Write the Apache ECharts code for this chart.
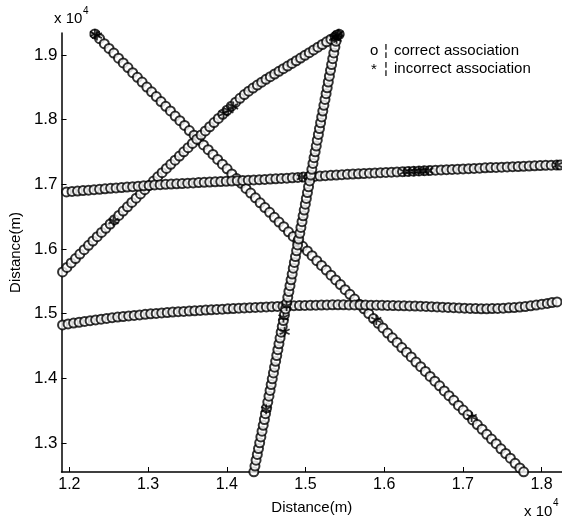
<!DOCTYPE html>
<html>
<head>
<meta charset="utf-8">
<script src="https://cdn.jsdelivr.net/npm/echarts@6/dist/echarts.min.js"></script>
<style>
html, body { margin: 0; padding: 0; background: #fff; }
#main { width: 562px; height: 525px; }
</style>
</head>
<body>
<div id="main"></div>
<script>
// tick positions, metres (labels shown in units of 10^4)
const xTicks = [12000, 13000, 14000, 15000, 16000, 17000, 18000];
const yTicks = [13000, 14000, 15000, 16000, 17000, 18000, 19000];

// track 1: descending diagonal
const trackA_x = [12324, 12384, 12444, 12504, 12564, 12624, 12684, 12744, 12804, 12864, 12924, 12984, 13044, 13104, 13164, 13224, 13284, 13344, 13404, 13464, 13524, 13584, 13644, 13704, 13764, 13824, 13884, 13944, 14004, 14064, 14124, 14184, 14244, 14304, 14364, 14424, 14484, 14544, 14604, 14664, 14724, 14784, 14844, 14904, 14964, 15024, 15084, 15144, 15204, 15264, 15324, 15384, 15444, 15504, 15564, 15624, 15684, 15744, 15804, 15864, 15924, 15984, 16044, 16104, 16164, 16224, 16284, 16344, 16404, 16464, 16524, 16584, 16644, 16704, 16764, 16824, 16884, 16944, 17004, 17064, 17124, 17184, 17244, 17304, 17364, 17424, 17484, 17544, 17604, 17664, 17724, 17773];
const trackA_y = [19325, 19252, 19174, 19101, 19029, 18950, 18877, 18805, 18726, 18654, 18581, 18503, 18430, 18357, 18279, 18206, 18134, 18055, 17983, 17910, 17831, 17759, 17686, 17608, 17535, 17462, 17384, 17311, 17239, 17160, 17088, 17015, 16936, 16864, 16791, 16713, 16640, 16567, 16489, 16416, 16344, 16265, 16193, 16120, 16041, 15969, 15896, 15818, 15745, 15673, 15594, 15521, 15449, 15370, 15298, 15225, 15146, 15074, 15001, 14923, 14850, 14778, 14699, 14626, 14554, 14475, 14403, 14330, 14251, 14179, 14106, 14028, 13955, 13883, 13804, 13731, 13659, 13580, 13508, 13435, 13356, 13284, 13211, 13133, 13060, 12988, 12909, 12836, 12764, 12685, 12613, 12552];

// track 2: rising curve from left edge to the apex
const trackB_x = [11913, 11968, 12023, 12078, 12133, 12188, 12243, 12298, 12353, 12408, 12463, 12518, 12573, 12628, 12683, 12738, 12793, 12848, 12903, 12958, 13013, 13068, 13123, 13178, 13233, 13288, 13343, 13398, 13453, 13508, 13563, 13618, 13673, 13728, 13783, 13838, 13893, 13948, 14003, 14058, 14113, 14168, 14223, 14278, 14333, 14388, 14443, 14498, 14553, 14608, 14663, 14718, 14773, 14828, 14883, 14938, 14993, 15048, 15103, 15158, 15213, 15268, 15323, 15378, 15429];
const trackB_y = [15645, 15714, 15783, 15851, 15920, 15988, 16056, 16123, 16189, 16255, 16320, 16386, 16452, 16518, 16585, 16652, 16719, 16785, 16851, 16917, 16983, 17049, 17115, 17180, 17245, 17309, 17373, 17437, 17502, 17567, 17632, 17697, 17762, 17826, 17890, 17954, 18018, 18082, 18145, 18208, 18270, 18330, 18387, 18440, 18489, 18535, 18580, 18623, 18665, 18706, 18747, 18788, 18829, 18870, 18911, 18952, 18994, 19036, 19078, 19120, 19162, 19204, 19245, 19284, 19320];

// track 3: upper near-horizontal
const trackC_x = [11963, 12033, 12103, 12173, 12243, 12313, 12383, 12453, 12523, 12593, 12663, 12733, 12803, 12873, 12943, 13013, 13083, 13153, 13223, 13293, 13363, 13433, 13503, 13573, 13643, 13713, 13783, 13853, 13923, 13993, 14063, 14133, 14203, 14273, 14343, 14413, 14483, 14553, 14623, 14693, 14763, 14833, 14903, 14973, 15043, 15113, 15183, 15253, 15323, 15393, 15463, 15533, 15603, 15673, 15743, 15813, 15883, 15953, 16023, 16093, 16163, 16233, 16303, 16373, 16443, 16513, 16583, 16653, 16723, 16793, 16863, 16933, 17003, 17073, 17143, 17213, 17283, 17353, 17423, 17493, 17563, 17633, 17703, 17773, 17843, 17913, 17983, 18053, 18123, 18193, 18234];
const trackC_y = [16882, 16889, 16896, 16903, 16909, 16916, 16923, 16930, 16937, 16944, 16950, 16957, 16963, 16970, 16976, 16983, 16990, 16994, 16999, 17003, 17008, 17012, 17017, 17021, 17026, 17030, 17034, 17038, 17042, 17047, 17051, 17055, 17059, 17064, 17068, 17072, 17076, 17081, 17085, 17090, 17095, 17101, 17106, 17112, 17117, 17122, 17127, 17133, 17138, 17143, 17148, 17154, 17159, 17163, 17167, 17171, 17175, 17179, 17183, 17187, 17191, 17195, 17199, 17203, 17206, 17210, 17214, 17218, 17222, 17226, 17230, 17234, 17238, 17242, 17246, 17250, 17254, 17258, 17261, 17265, 17268, 17272, 17275, 17279, 17282, 17286, 17289, 17293, 17296, 17298, 17300];

// track 4: lower near-horizontal
const trackD_x = [11913, 11983, 12053, 12123, 12193, 12263, 12333, 12403, 12473, 12543, 12613, 12683, 12753, 12823, 12893, 12963, 13033, 13103, 13173, 13243, 13313, 13383, 13453, 13523, 13593, 13663, 13733, 13803, 13873, 13943, 14013, 14083, 14153, 14223, 14293, 14363, 14433, 14503, 14573, 14643, 14713, 14783, 14853, 14923, 14993, 15063, 15133, 15203, 15273, 15343, 15413, 15483, 15553, 15623, 15693, 15763, 15833, 15903, 15973, 16043, 16113, 16183, 16253, 16323, 16393, 16463, 16533, 16603, 16673, 16743, 16813, 16883, 16953, 17023, 17093, 17163, 17233, 17303, 17373, 17443, 17513, 17583, 17653, 17723, 17793, 17863, 17933, 18003, 18073, 18133, 18197];
const trackD_y = [14825, 14840, 14853, 14866, 14878, 14890, 14902, 14914, 14925, 14936, 14946, 14955, 14964, 14972, 14980, 14988, 14996, 15003, 15010, 15017, 15024, 15029, 15034, 15039, 15044, 15049, 15054, 15059, 15064, 15069, 15074, 15079, 15083, 15087, 15091, 15095, 15099, 15103, 15107, 15111, 15115, 15119, 15122, 15125, 15127, 15129, 15131, 15133, 15134, 15135, 15135, 15135, 15134, 15134, 15133, 15132, 15131, 15130, 15128, 15127, 15125, 15123, 15121, 15119, 15117, 15114, 15111, 15107, 15103, 15099, 15095, 15091, 15087, 15083, 15080, 15077, 15075, 15075, 15077, 15080, 15084, 15089, 15094, 15101, 15110, 15120, 15132, 15145, 15158, 15170, 15181];

// track 5: steep rise from bottom to the apex
const trackE_x = [14344, 14358, 14372, 14388, 14403, 14418, 14433, 14448, 14463, 14478, 14492, 14507, 14521, 14536, 14550, 14564, 14578, 14593, 14607, 14621, 14635, 14649, 14663, 14677, 14691, 14705, 14719, 14733, 14747, 14761, 14775, 14789, 14803, 14817, 14831, 14845, 14859, 14873, 14887, 14900, 14914, 14928, 14942, 14956, 14970, 14984, 14998, 15011, 15025, 15039, 15053, 15067, 15081, 15095, 15109, 15123, 15137, 15150, 15164, 15178, 15192, 15206, 15220, 15234, 15248, 15262, 15276, 15290, 15304, 15318, 15332, 15346, 15360, 15374, 15388, 15404];
const trackE_y = [12552, 12642, 12732, 12822, 12912, 13002, 13092, 13182, 13272, 13362, 13452, 13542, 13632, 13722, 13812, 13902, 13992, 14082, 14172, 14262, 14352, 14442, 14532, 14622, 14712, 14802, 14892, 14982, 15072, 15162, 15252, 15342, 15432, 15522, 15612, 15702, 15792, 15882, 15972, 16062, 16152, 16242, 16332, 16422, 16512, 16602, 16692, 16782, 16872, 16962, 17052, 17142, 17232, 17322, 17412, 17502, 17592, 17682, 17772, 17862, 17952, 18042, 18132, 18222, 18312, 18402, 18492, 18582, 18672, 18762, 18852, 18942, 19032, 19122, 19212, 19309];

// incorrect associations
const wrong_x = [12324, 12350, 15404, 15385, 15420, 15365, 15395, 14955, 16260, 16320, 16380, 16440, 16500, 16560, 18205, 12560, 13960, 14020, 14080, 14720, 14735, 14500, 15900, 17112, 14760];
const wrong_y = [19325, 19300, 19309, 19280, 19330, 19265, 19250, 17110, 17194, 17198, 17201, 17204, 17208, 17211, 17298, 16430, 18094, 18145, 18205, 14940, 14720, 13520, 14900, 13400, 15118];

const pairs = (xs, ys) => xs.map((x, i) => [x, ys[i]]);
const correctData = [].concat(
    pairs(trackA_x, trackA_y),
    pairs(trackB_x, trackB_y),
    pairs(trackC_x, trackC_y),
    pairs(trackD_x, trackD_y),
    pairs(trackE_x, trackE_y)
);
const wrongData = pairs(wrong_x, wrong_y);

const FONT = "'Liberation Sans', Arial, sans-serif";
const fmt = (v) => (v / 10000).toFixed(1);

const myChart = echarts.init(document.getElementById("main"));
const option = {
    animation: false,
    backgroundColor: "#fff",
    grid: { left: 52, right: 0, top: 33, bottom: 53, containLabel: false },
    xAxis: {
        type: "value",
        min: 11900,
        max: 18260,
        name: "Distance(m)",
        nameLocation: "middle",
        nameGap: 28,
        nameTextStyle: { color: "#000", fontSize: 15, fontFamily: FONT },
        axisLine: { lineStyle: { color: "#000", width: 1.5 } },
        axisTick: { show: true, inside: true, length: 5, customValues: xTicks, lineStyle: { color: "#000", width: 1 } },
        axisLabel: { customValues: xTicks, formatter: fmt, color: "#000", fontSize: 16, fontFamily: FONT, margin: 5 },
        splitLine: { show: false },
    },
    yAxis: {
        type: "value",
        min: 12550,
        max: 19340,
        name: "Distance(m)",
        nameLocation: "middle",
        nameGap: 35,
        nameTextStyle: { color: "#000", fontSize: 15, fontFamily: FONT },
        axisLine: { show: true, lineStyle: { color: "#000", width: 1.5 } },
        axisTick: { show: true, inside: true, length: 5, customValues: yTicks, lineStyle: { color: "#000", width: 1 } },
        axisLabel: { customValues: yTicks, formatter: fmt, color: "#000", fontSize: 17, fontFamily: FONT, margin: 4 },
        splitLine: { show: false },
    },
    series: [
        {
            name: "correct association",
            type: "scatter",
            symbol: "emptyCircle",
            symbolSize: 9,
            itemStyle: { color: "#000", borderColor: "#000", borderWidth: 1.7 },
            data: correctData,
        },
        {
            name: "incorrect association",
            type: "scatter",
            symbol: "path://M5,0L5,10M0.7,2.5L9.3,7.5M0.7,7.5L9.3,2.5",
            symbolSize: 10,
            itemStyle: { color: "none", borderColor: "#000", borderWidth: 1.8 },
            data: wrongData,
        },
    ],
    graphic: [
        { type: "text", left: 54, top: 11, style: { text: "x 10", fill: "#000", font: "15px " + FONT } },
        { type: "text", left: 83, top: 6, style: { text: "4", fill: "#000", font: "10px " + FONT } },
        { type: "text", left: 524, top: 504, style: { text: "x 10", fill: "#000", font: "15px " + FONT } },
        { type: "text", left: 553, top: 498, style: { text: "4", fill: "#000", font: "10px " + FONT } },
        { type: "text", left: 370, top: 43, style: { text: "o", fill: "#000", font: "15px " + FONT } },
        { type: "text", left: 384, top: 43, style: { text: "¦", fill: "#000", font: "15px " + FONT } },
        { type: "text", left: 394, top: 43, style: { text: "correct association", fill: "#000", font: "15px " + FONT } },
        { type: "text", left: 371, top: 62, style: { text: "*", fill: "#000", font: "15px " + FONT } },
        { type: "text", left: 384, top: 61, style: { text: "¦", fill: "#000", font: "15px " + FONT } },
        { type: "text", left: 394, top: 61, style: { text: "incorrect association", fill: "#000", font: "15px " + FONT } },
    ],
};
myChart.setOption(option);
</script>
</body>
</html>
